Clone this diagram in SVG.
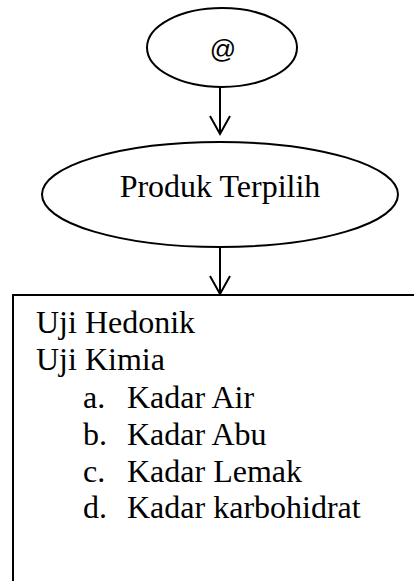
<svg xmlns="http://www.w3.org/2000/svg" width="414" height="581" viewBox="0 0 414 581">
<style>
.shape{fill:#fff;stroke:#000;stroke-width:2}
.conn{fill:none;stroke:#000;stroke-width:2}
.serif{font-family:"Liberation Serif","Times New Roman",serif;font-size:32px;fill:#000}
.sans{font-family:"Liberation Sans",Arial,sans-serif;font-size:26px;fill:#000}
</style>
<rect width="414" height="581" fill="#fff"/>
<g id="connectors">
<path class="conn" d="M220 87 V134 M210 116 L220 134 L230 116"/>
<path class="conn" d="M220 247 V294 M210 276 L220 294 L230 276"/>
</g>
<g id="node-start">
<ellipse class="shape" cx="222" cy="47.5" rx="75" ry="39.5"/>
<text class="sans" x="223" y="58" text-anchor="middle">@</text>
</g>
<g id="node-produk">
<ellipse class="shape" cx="220" cy="194.5" rx="178" ry="52.5"/>
<text class="serif" x="220" y="197" text-anchor="middle">Produk Terpilih</text>
</g>
<g id="node-uji">
<path class="shape" d="M13 600 V295 H430"/>
<text class="serif" x="36" y="333">Uji Hedonik</text>
<text class="serif" x="36" y="370">Uji Kimia</text>
<text class="serif" x="83" y="408">a.</text><text class="serif" x="127" y="408">Kadar Air</text>
<text class="serif" x="83" y="445">b.</text><text class="serif" x="127" y="445">Kadar Abu</text>
<text class="serif" x="83" y="482">c.</text><text class="serif" x="127" y="482">Kadar Lemak</text>
<text class="serif" x="83" y="518">d.</text><text class="serif" x="127" y="518">Kadar karbohidrat</text>
</g>
</svg>
